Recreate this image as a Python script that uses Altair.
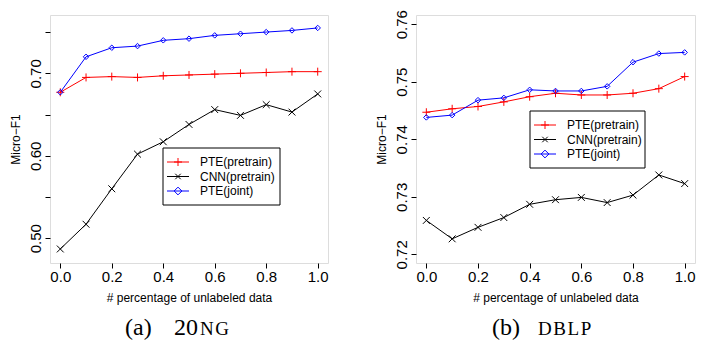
import altair as alt
import pandas as pd

# ---------------- data ----------------
x_vals = [0.0, 0.1, 0.2, 0.3, 0.4, 0.5, 0.6, 0.7, 0.8, 0.9, 1.0]
series_names = ["PTE(pretrain)", "CNN(pretrain)", "PTE(joint)"]
series_colors = ["#FF0000", "#000000", "#0000FF"]

ng_pte_pretrain = [0.677, 0.695, 0.696, 0.695, 0.697, 0.698, 0.699, 0.700, 0.701, 0.702, 0.702]
ng_cnn_pretrain = [0.487, 0.517, 0.560, 0.602, 0.617, 0.638, 0.656, 0.649, 0.662, 0.653, 0.675]
ng_pte_joint = [0.677, 0.720, 0.731, 0.733, 0.740, 0.742, 0.746, 0.748, 0.750, 0.752, 0.755]

dblp_pte_pretrain = [0.7447, 0.7453, 0.7457, 0.7465, 0.7474, 0.7480, 0.7477, 0.7477, 0.7480, 0.7488, 0.7509]
dblp_cnn_pretrain = [0.7259, 0.7227, 0.7247, 0.7264, 0.7287, 0.7295, 0.7299, 0.7290, 0.7303, 0.7338, 0.7323]
dblp_pte_joint = [0.7438, 0.7442, 0.7468, 0.7472, 0.7486, 0.7484, 0.7484, 0.7492, 0.7534, 0.7549, 0.7551]

x_ticks = [0.0, 0.2, 0.4, 0.6, 0.8, 1.0]
ng_y_ticks = [0.50, 0.55, 0.60, 0.65, 0.70, 0.75]
dblp_y_ticks = [0.72, 0.73, 0.74, 0.75, 0.76]

x_title = "# percentage of unlabeled data"
y_title = "Micro\u2212F1"

# marker paths (R pch 3, 4, 5)
shape_paths = ["M-1,0L1,0M0,-1L0,1", "M-1,-1L1,1M-1,1L1,-1", "M0,-1L1,0L0,1L-1,0Z"]
shape_sizes = [64, 30, 60]

SANS = "Liberation Sans"
SERIF = "Liberation Serif"
HAIR = "\u200a"


def long_df(a, b, c):
    rows = []
    for name, vals in zip(series_names, [a, b, c]):
        for xv, yv in zip(x_vals, vals):
            rows.append({"x": xv, "y": yv, "series": name})
    return pd.DataFrame(rows)


def panel(df, ydomain, yticks, label_expr, W, H, legend_box, legend_rows, caption):
    xs = alt.Scale(domain=[-0.04, 1.04], nice=False, zero=False)
    ys = alt.Scale(domain=ydomain, nice=False, zero=False)
    color = alt.Color("series:N", scale=alt.Scale(domain=series_names, range=series_colors), legend=None)
    xenc = alt.X("x:Q", scale=xs, axis=alt.Axis(
        values=x_ticks, format=".1f", title=x_title, grid=False, domain=False,
        tickSize=5, tickColor="black", labelFont=SANS, labelFontSize=15, labelColor="black",
        labelPadding=1, titleFont=SANS, titleFontSize=12, titleFontWeight="normal",
        titleColor="black", titlePadding=8))
    yaxis = dict(values=yticks, title=y_title, grid=False, domain=False,
                 tickSize=5, tickColor="black", labelFont=SANS, labelFontSize=15,
                 labelColor="black", labelAngle=-90, labelAlign="center",
                 labelBaseline="alphabetic", labelPadding=5, titleFont=SANS,
                 titleFontSize=12, titleFontWeight="normal", titleColor="black",
                 titlePadding=6)
    if label_expr:
        yaxis["labelExpr"] = label_expr
    else:
        yaxis["format"] = ".2f"
    yenc = alt.Y("y:Q", scale=ys, axis=alt.Axis(**yaxis))
    base = alt.Chart(df)
    lines = base.mark_line(strokeWidth=1, clip=True).encode(x=xenc, y=yenc, color=color, detail="series:N")
    pts = base.mark_point(filled=False, strokeWidth=1, opacity=1).encode(
        x="x:Q", y="y:Q", color=color,
        shape=alt.Shape("series:N", scale=alt.Scale(domain=series_names, range=shape_paths), legend=None),
        size=alt.Size("series:N", scale=alt.Scale(domain=series_names, range=shape_sizes), legend=None))
    layers = [lines, pts]

    # legend box (drawn like R's legend())
    bx0, bx1, by0, by1 = legend_box
    one = pd.DataFrame({"k": [0]})
    layers.append(alt.Chart(one).mark_rect(fill="white", stroke="black", strokeWidth=1).encode(
        x=alt.value(bx0), x2=alt.value(bx1), y=alt.value(by0), y2=alt.value(by1)))
    for i, name in enumerate(series_names):
        ry = legend_rows[i]
        d = pd.DataFrame({"series": [name]})
        c = alt.Chart(d)
        layers.append(c.mark_rule(strokeWidth=1, color=series_colors[i]).encode(
            x=alt.value(bx0 + 4), x2=alt.value(bx0 + 26), y=alt.value(ry)))
        layers.append(c.mark_point(filled=False, strokeWidth=1, color=series_colors[i], opacity=1).encode(
            x=alt.value(bx0 + 15), y=alt.value(ry), shape=alt.value(shape_paths[i]),
            size=alt.value(shape_sizes[i])))
        layers.append(c.mark_text(align="left", baseline="middle", font=SANS, fontSize=12, color="black").encode(
            x=alt.value(bx0 + 37), y=alt.value(ry), text="series:N"))

    # caption
    for txt, xpos, align, fs in caption:
        d = pd.DataFrame({"t": [txt]})
        layers.append(alt.Chart(d).mark_text(align=align, baseline="alphabetic", font=SERIF,
                                             fontSize=fs, color="black").encode(
            x=alt.value(xpos), y=alt.value(320), text="t:N"))

    return alt.layer(*layers).properties(width=W, height=H)


ng_df = long_df(ng_pte_pretrain, ng_cnn_pretrain, ng_pte_joint)
dblp_df = long_df(dblp_pte_pretrain, dblp_cnn_pretrain, dblp_pte_joint)

left = panel(ng_df, [0.470, 0.7707], ng_y_ticks,
             "round(datum.value*100) % 10 == 0 ? format(datum.value, '.2f') : ''",
             278, 248, (113, 230, 133, 190), [147, 161.5, 176],
             [("(a)", 75, "left", 24), ("20", 148, "right", 24), ("N" + HAIR + "G", 150, "left", 19)])
right = panel(dblp_df, [0.7185, 0.7616], dblp_y_ticks, None,
              279, 248, (114, 229, 96, 153), [110, 124.5, 139],
              [("(b)", 76, "left", 24), (HAIR.join("DBLP"), 122, "left", 19)])

chart = alt.hconcat(left, right, spacing=88, bounds="flush").properties(
    padding={"left": 8, "top": 9, "right": 5, "bottom": 5}
).configure_view(stroke="black", strokeWidth=1).configure(background="white")

chart.save("out.html", embed_options={"renderer": "svg", "actions": False})
